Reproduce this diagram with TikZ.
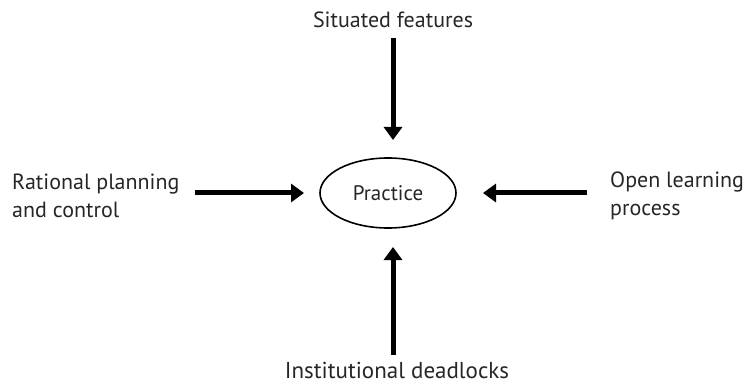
\documentclass[tikz,border=0pt]{standalone}
\usepackage{fontspec}
\setmainfont{PT Sans}
\usetikzlibrary{arrows.meta,shapes.geometric}
\definecolor{txt}{HTML}{262626}
\begin{document}
\begin{tikzpicture}[x=1pt,y=-1pt,
  lbl/.style={text=txt,font=\fontsize{22}{28}\selectfont,inner sep=0pt,align=left},
  bigarrow/.style={line width=5pt,-{Triangle[length=13pt,width=18pt]}},
  oval/.style={ellipse,draw=black,line width=1.6pt,minimum width=136pt,minimum height=70pt,inner sep=0pt,text=txt,font=\fontsize{21}{24}\selectfont}]
\useasboundingbox (0,0) rectangle (750,385);
\node[oval] (p) at (388,193) {Practice};
\node[lbl] (top) at (393,20) {Situated features};
\node[lbl,anchor=west] (left) at (12,196) {Rational planning\\and control};
\node[lbl,anchor=west] (right) at (610,196) {Open learning\\process};
\node[lbl,font=\fontsize{23}{28}\selectfont] (bot) at (397,370) {Institutional deadlocks};
\coordinate (ts) at (393,38); \coordinate (te) at (393,140);
\coordinate (ls) at (195,193); \coordinate (le) at (304,193);
\coordinate (rs) at (587,193); \coordinate (re) at (483,193);
\coordinate (bs) at (393,355); \coordinate (be) at (393,247);
\draw[bigarrow] (ts) -- (te);
\draw[bigarrow] (ls) -- (le);
\draw[bigarrow] (rs) -- (re);
\draw[bigarrow] (bs) -- (be);
\end{tikzpicture}
\end{document}
